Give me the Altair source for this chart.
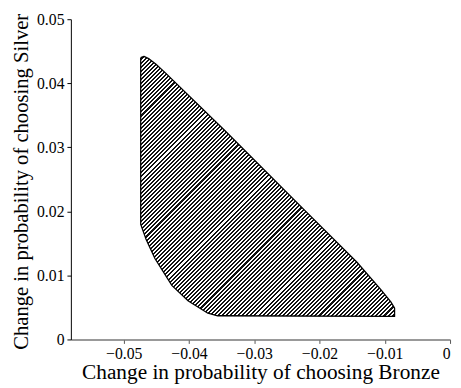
import altair as alt
import pandas as pd

# Boundary of the region (traced clockwise, closed)
bronze = [-0.0474, -0.0469, -0.0461, -0.0451, -0.0437, -0.0344, -0.0223, -0.0143,
          -0.0107, -0.0091, -0.0085, -0.0085, -0.0356, -0.0371, -0.0401, -0.0426,
          -0.0452, -0.0466, -0.0474, -0.0474]
silver = [0.0440, 0.0442, 0.0438, 0.0430, 0.0417, 0.0325, 0.0202, 0.0121,
          0.0079, 0.0059, 0.0049, 0.0036, 0.0037, 0.0041, 0.0060, 0.0084,
          0.0126, 0.0157, 0.0180, 0.0440]

x_ticks = [-0.05, -0.04, -0.03, -0.02, -0.01, 0.0]
y_ticks = [0.0, 0.01, 0.02, 0.03, 0.04, 0.05]

x_domain = [-0.0581, 0.0]
y_domain = [0.0, 0.05]
W, H = 386, 326

df = pd.DataFrame({"bronze": bronze, "silver": silver, "i": list(range(len(bronze)))})

# hatch pattern emulated with a striped linear gradient
w_px = (max(bronze) - min(bronze)) * W / (x_domain[1] - x_domain[0])
h_px = (max(silver) - min(silver)) * H / (y_domain[1] - y_domain[0])
r = h_px / w_px
n_stripes = 128
stops = []
for k in range(n_stripes):
    a = k / n_stripes
    b = (k + 0.5) / n_stripes
    c = (k + 1) / n_stripes
    stops += [alt.GradientStop(offset=a, color="white"),
              alt.GradientStop(offset=b, color="white"),
              alt.GradientStop(offset=b, color="#111"),
              alt.GradientStop(offset=c, color="#111")]
hatch = alt.LinearGradient(gradient="linear", stops=stops, x1=0, y1=0, x2=1, y2=r)

font = "Liberation Serif"
label_expr = "datum.value == 0 ? '0' : format(datum.value, '.2f')"

chart = alt.Chart(df).mark_line(
    fill=hatch, stroke="black", strokeWidth=1.3, strokeJoin="round"
).encode(
    x=alt.X("bronze:Q", scale=alt.Scale(domain=x_domain, nice=False, zero=False),
            axis=alt.Axis(title="Change in probability of choosing Bronze", values=x_ticks,
                          labelExpr=label_expr, grid=False, domainColor="#777",
                          domainWidth=1.6, tickColor="#555", tickSize=4, labelPadding=2,
                          titleBaseline="alphabetic", titleY=40, titleFontSize=21.7)),
    y=alt.Y("silver:Q", scale=alt.Scale(domain=y_domain, nice=False),
            axis=alt.Axis(title="Change in probability of choosing Silver", values=y_ticks,
                          labelExpr=label_expr, grid=False, domainColor="black",
                          domainWidth=1, tickColor="black", tickSize=4, labelPadding=3,
                          titleBaseline="alphabetic", titleX=-44, titleY=H / 2 + 2,
                          titleFontSize=21)),
    order="i:O",
).properties(
    width=W, height=H,
    autosize=alt.AutoSizeParams(type="none"),
    padding={"left": 64, "top": 8, "right": 3, "bottom": 46},
).configure_view(stroke=None).configure_axis(
    labelFont=font, titleFont=font, labelFontSize=16,
    labelColor="black", titleColor="black", titleFontWeight="normal",
)

chart.save("out.html", embed_options={"renderer": "svg", "actions": False})
